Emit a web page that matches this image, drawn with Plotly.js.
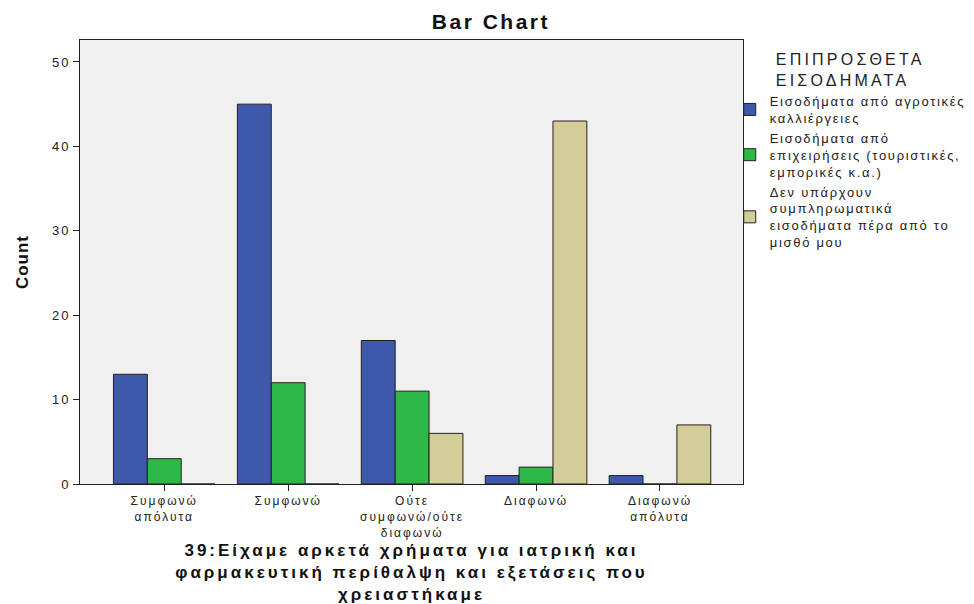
<!DOCTYPE html>
<html><head><meta charset="utf-8">
<script src="https://cdn.plot.ly/plotly-3.0.1.min.js"></script>
<style>
body{margin:0;background:#fff}
#c{width:974px;height:604px}
.gtitle{letter-spacing:2.5px}
.xtitle{letter-spacing:3px}
.ytitle{letter-spacing:1px}
.legendtext{letter-spacing:1.7px}
.legendtitletext{letter-spacing:3.2px}
.xtick text{letter-spacing:2px}
.ytick text{letter-spacing:2px}
</style>
</head><body><div id="c"></div>
<script>
const categories = ["Συμφωνώ<br>απόλυτα", "Συμφωνώ", "Ούτε<br>συμφωνώ/ούτε<br>διαφωνώ", "Διαφωνώ", "Διαφωνώ<br>απόλυτα"];
const seriesNames = ["Εισοδήματα από αγροτικές<br>καλλιέργειες", "Εισοδήματα από<br>επιχειρήσεις (τουριστικές,<br>εμπορικές κ.α.)", "Δεν υπάρχουν<br>συμπληρωματικά<br>εισοδήματα πέρα από το<br>μισθό μου"];
const agri = [13, 45, 17, 1, 1];
const business = [3, 12, 11, 2, 0];
const none = [0, 0, 6, 43, 7];
const colors = ["#3e58ac", "#2eb848", "#d3ce97"];
const seriesValues = [agri, business, none];
const yTicks = [0, 10, 20, 30, 40, 50];

const traces = seriesValues.map((v, i) => ({
  type: "bar", name: seriesNames[i], x: categories, y: v,
  marker: {color: colors[i], line: {color: "#222", width: 1}},
  hoverinfo: "y"
}));

const layout = {
  width: 974, height: 604,
  margin: {l: 80, r: 231, t: 40, b: 120, autoexpand: false},
  paper_bgcolor: "#fff", plot_bgcolor: "#f0f0f0",
  font: {family: "Liberation Sans, Arial, sans-serif", color: "#222", size: 12},
  title: {text: "<b>Bar Chart</b>", x: 0.504, xref: "container", xanchor: "center", y: 0.9636, yanchor: "middle", font: {size: 21, color: "#111"}},
  barmode: "group", bargap: 0.18, bargroupgap: 0,
  xaxis: {
    range: [-0.68, 4.67], showline: true, linecolor: "#222", linewidth: 1, mirror: true,
    ticks: "outside", ticklen: 6, tickcolor: "#222", showgrid: false,
    tickfont: {size: 12, color: "#222"},
    title: {text: "<b>39:Είχαμε αρκετά χρήματα για ιατρική και<br>φαρμακευτική περίθαλψη και εξετάσεις που<br>χρειαστήκαμε</b>", font: {size: 17, color: "#111"}, standoff: 16}
  },
  yaxis: {
    range: [0, 52.6], tickvals: yTicks, showline: true, linecolor: "#222", linewidth: 1, mirror: true,
    ticks: "outside", ticklen: 6, tickcolor: "#222", showgrid: false, zeroline: false,
    tickfont: {size: 13, color: "#222"},
    title: {text: "<b>Count</b>", font: {size: 17, color: "#111"}, standoff: 18}
  },
  legend: {
    x: 0.98, xanchor: "left", y: 0.99, yanchor: "top", bgcolor: "rgba(0,0,0,0)",
    font: {size: 13, color: "#222"}, tracegroupgap: 0, itemwidth: 30,
    title: {text: "ΕΠΙΠΡΟΣΘΕΤΑ<br>ΕΙΣΟΔΗΜΑΤΑ", side: "top center", font: {size: 16, color: "#222"}}
  },
  showlegend: true
};
Plotly.newPlot("c", traces, layout, {displayModeBar: false, staticPlot: true});
</script></body></html>
